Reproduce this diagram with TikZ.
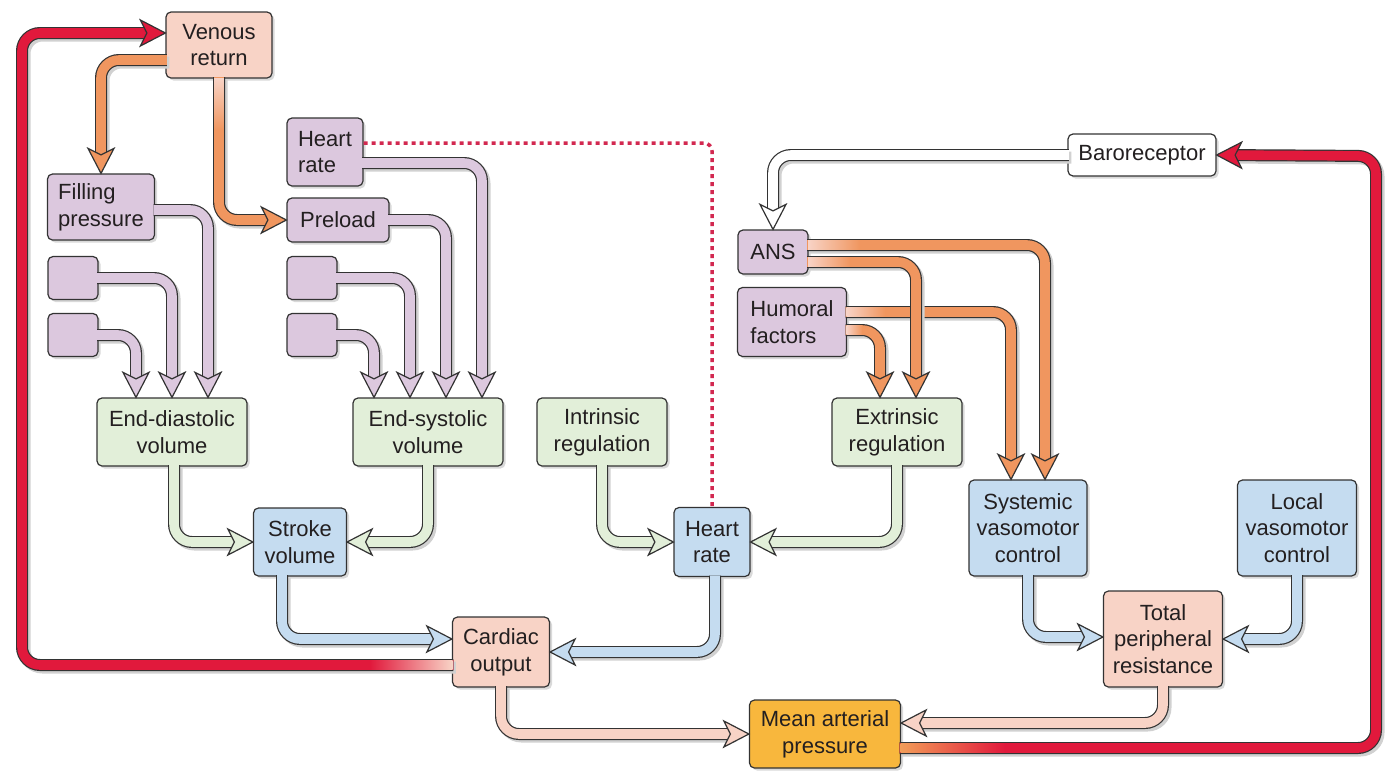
\documentclass[tikz,border=0pt]{standalone}
\usepackage{fontspec}
\setmainfont{Liberation Sans}
\usetikzlibrary{decorations.markings,shadows}
\newdimen\pxu \pxu=0.75pt
\definecolor{edge}{HTML}{333333}
\definecolor{txt}{HTML}{231F20}
\definecolor{cLilac}{HTML}{DCC8DE}
\definecolor{cLeaf}{HTML}{E2EFD9}
\definecolor{cSky}{HTML}{C5DCF0}
\definecolor{cRose}{HTML}{F8D3C6}
\definecolor{cAmber}{HTML}{F8B73D}
\definecolor{cOrange}{HTML}{F0965F}
\definecolor{cRed}{HTML}{E1193C}
\definecolor{cDot}{HTML}{D22850}
\begin{document}
\begin{tikzpicture}[x=0.75pt, y=-0.75pt,
  box/.style={draw=edge, line width=1.2\pxu, rounded corners=5\pxu, inner sep=0pt, align=center, text=txt,
    font=\fontsize{16.5}{20}\selectfont,
    drop shadow={shadow xshift=2.5\pxu, shadow yshift=-2.5\pxu, opacity=.3, fill=black!50}},
  sz/.style 2 args={minimum width=#1\pxu, minimum height=#2\pxu},
  lilac/.style={box, fill=cLilac}, leaf/.style={box, fill=cLeaf}, sky/.style={box, fill=cSky},
  rose/.style={box, fill=cRose}, amber/.style={box, fill=cAmber}, plain/.style={box, fill=white},
  fat/.style={draw=#1, line width=9.6\pxu, rounded corners=18\pxu, shorten >=17\pxu, shorten <=-1.5\pxu,
    preaction={draw=black!18, line width=12\pxu, transform canvas={xshift=2.5\pxu, yshift=-2.5\pxu}},
    preaction={draw=edge, line width=12\pxu, shorten >=17\pxu, shorten <=-1.5\pxu},
    postaction={decorate, decoration={markings, mark=at position 1 with {\draw[edge, line width=1.2\pxu,
      fill=#1, sharp corners, shorten >=0pt, shorten <=0pt, line join=miter]
      (0,0) -- (-25,13) -- (-18.5,0) -- (-25,-13) -- cycle;}}}},
  dotline/.style={draw=cDot, line width=3.5\pxu, dash pattern=on 4\pxu off 4\pxu, rounded corners=8\pxu}]
\useasboundingbox (0,0) rectangle (1393,772);

\node[rose, sz={106}{66}] (vr) at (219,45) {Venous\\return};
\node[lilac, sz={76}{68}, align=left] (hr1) at (325,152) {Heart\\rate};
\node[lilac, sz={107}{66}, align=left] (fp) at (101,207) {Filling\\pressure};
\node[lilac, sz={102}{44}] (pre) at (338,220) {Preload};
\node[lilac, sz={50}{43}] (e1) at (73,278) {};
\node[lilac, sz={50}{43}] (e2) at (73,335) {};
\node[lilac, sz={50}{43}] (e3) at (312,278) {};
\node[lilac, sz={50}{43}] (e4) at (312,335) {};
\node[leaf, sz={150}{68}] (edv) at (172,432) {End-diastolic\\volume};
\node[leaf, sz={150}{68}] (esv) at (428,432) {End-systolic\\volume};
\node[leaf, sz={130}{68}] (intr) at (602,432) {Intrinsic\\regulation};
\node[leaf, sz={130}{68}] (ext) at (897,432) {Extrinsic\\regulation};
\node[lilac, sz={70}{44}] (ans) at (773,252) {ANS};
\node[lilac, sz={109}{69}, align=left] (hum) at (792,322) {Humoral\\factors};
\node[plain, sz={148}{42}] (baro) at (1142,155) {Baroreceptor};
\node[sky, sz={93}{68}] (sv) at (300,542) {Stroke\\volume};
\node[sky, sz={76}{69}] (hr) at (712,542) {Heart\\rate};
\node[sky, sz={118}{96}] (sys) at (1028,528) {Systemic\\vasomotor\\control};
\node[sky, sz={119}{96}] (loc) at (1297,528) {Local\\vasomotor\\control};
\node[rose, sz={119}{96}] (tpr) at (1163,639) {Total\\peripheral\\resistance};
\node[rose, sz={97}{70}] (co) at (501,652) {Cardiac\\output};
\node[amber, sz={151}{68}] (map) at (825,734) {Mean arterial\\pressure};

\draw[fat=cRed] ([yshift=-13\pxu]co.west) -| (22,33) -- ([yshift=12\pxu]vr.west);
\shade[left color=cRed, right color=cRose] (370,660.2) rectangle (452.5,669.8);
\draw[fat=cRed] ([yshift=-14\pxu]map.east) -| (1376,156) -- (baro.east);
\shade[left color=cOrange!80!cAmber, right color=cRed] (900.5,743.2) rectangle (1005,752.8);
\draw[fat=white] (baro.west) -| (ans.north);
\draw[fat=cOrange] ([yshift=-15\pxu]vr.west) -| (fp.north);
\draw[fat=cOrange] (vr.south) |- (pre.west);
\shade[top color=cRose, bottom color=cOrange] (214.2,78) rectangle (223.8,130);
\draw[fat=cLilac] ([yshift=-3\pxu]fp.east) -| ([xshift=36\pxu]edv.north);
\draw[fat=cLilac] (e1.east) -| (edv.north);
\draw[fat=cLilac] (e2.east) -| ([xshift=-36\pxu]edv.north);
\draw[fat=cLilac] ([yshift=-11\pxu]hr1.east) -| ([xshift=54\pxu]esv.north);
\draw[fat=cLilac] (pre.east) -| ([xshift=18\pxu]esv.north);
\draw[fat=cLilac] (e3.east) -| ([xshift=-18\pxu]esv.north);
\draw[fat=cLilac] (e4.east) -| ([xshift=-54\pxu]esv.north);
\draw[fat=cOrange] ([yshift=10\pxu]hum.east) -| ([xshift=-17\pxu]sys.north);
\shade[left color=cRose, right color=cOrange] (846.5,307.2) rectangle (885,316.8);
\draw[fat=cOrange] ([yshift=-8\pxu]hum.east) -| ([xshift=-17\pxu]ext.north);
\shade[left color=cRose, right color=cOrange] (846.5,325.2) rectangle (862,334.8);
\draw[fat=cOrange] ([yshift=7\pxu]ans.east) -| ([xshift=17\pxu]sys.north);
\shade[left color=cRose, right color=cOrange] (808,240.2) rectangle (860,249.8);
\draw[fat=cOrange] ([yshift=-10\pxu]ans.east) -| ([xshift=19\pxu]ext.north);
\shade[left color=cRose, right color=cOrange] (808,257.2) rectangle (850,266.8);
\draw[fat=cLeaf] ([xshift=2\pxu]edv.south) |- (sv.west);
\draw[fat=cLeaf] (esv.south) |- (sv.east);
\draw[fat=cLeaf] (intr.south) |- (hr.west);
\draw[fat=cLeaf] (ext.south) |- (hr.east);
\draw[fat=cSky] ([xshift=-18\pxu]sv.south) |- ([yshift=13\pxu]co.west);
\draw[fat=cSky] ([xshift=3\pxu]hr.south) |- (co.east);
\draw[fat=cSky] (sys.south) |- ([yshift=2\pxu]tpr.west);
\draw[fat=cSky] (loc.south) |- (tpr.east);
\draw[fat=cRose] (co.south) |- (map.west);
\draw[fat=cRose] (tpr.south) |- ([yshift=11\pxu]map.east);
\draw[dotline] ([yshift=9\pxu]hr1.east) -| (hr.north);
\end{tikzpicture}
\end{document}
